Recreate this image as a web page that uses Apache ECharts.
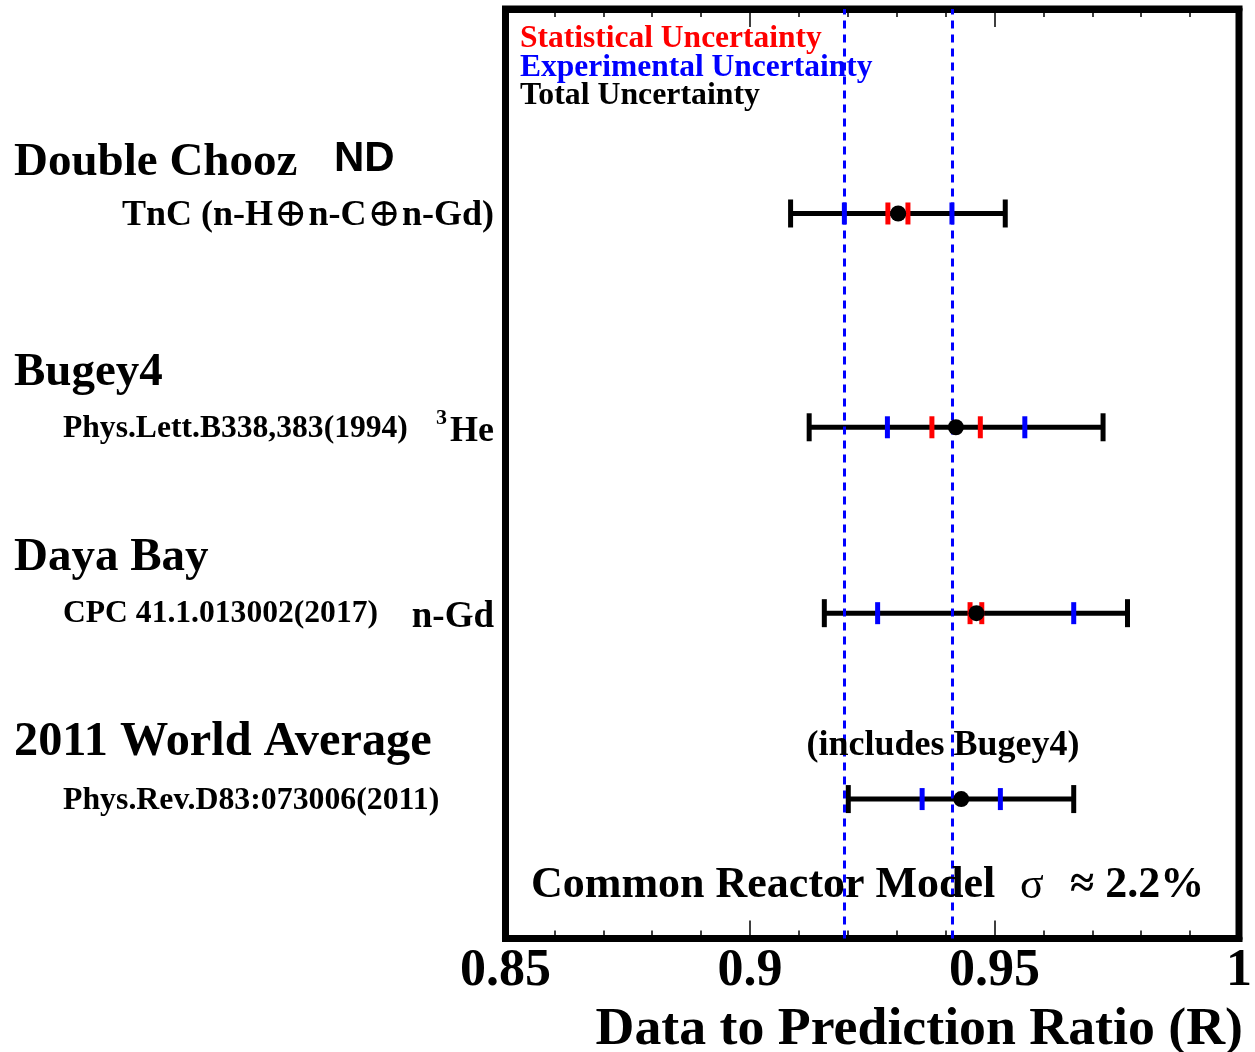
<!DOCTYPE html>
<html>
<head>
<meta charset="utf-8">
<script src="https://cdn.jsdelivr.net/npm/echarts@6/dist/echarts.min.js"></script>
<style>html,body{margin:0;padding:0;background:#fff}#c{width:1255px;height:1052px}</style>
</head>
<body>
<div id="c"></div>
<script>
// ---- data ----
var experiments = ['Double Chooz', 'Bugey4', 'Daya Bay', '2011 World Average'];
var rowY      = [3.9, 2.75, 1.75, 0.75];
var central   = [0.9303, 0.9421, 0.9463, 0.9432];
var totalLo   = [0.9083, 0.9121, 0.9152, 0.9201];
var totalHi   = [0.9522, 0.9722, 0.9772, 0.9662];
var expLo     = [0.9193, 0.9281, 0.9261, 0.9352];
var expHi     = [0.9413, 0.9562, 0.9662, 0.9512];
var statLo    = [0.9282, 0.9372, 0.9450, '-'];
var statHi    = [0.9323, 0.9471, 0.9474, '-'];
var bandLines = [0.9193, 0.9413];
var xTicks    = [0.85, 0.9, 0.95, 1];

var errData = experiments.map(function (n, i) {
  return [totalLo[i], totalHi[i], rowY[i], expLo[i], expHi[i], statLo[i], statHi[i]];
});
var dotData = experiments.map(function (n, i) { return [central[i], rowY[i]]; });

var SERIF = '"Liberation Serif","Times New Roman",serif';
var SANS = '"Liberation Sans",Arial,sans-serif';
var DY = 2;

function txt(text, x, y, size, opts) {
  opts = opts || {};
  var st = {
    text: text,
    font: (opts.weight || 'bold') + ' ' + size + 'px ' + (opts.family || SERIF),
    fill: opts.color || '#000',
    textAlign: opts.align || 'left',
    textVerticalAlign: 'middle'
  };
  if (opts.rich) st.rich = opts.rich;
  return { type: 'text', x: x, y: y + DY, z: 100, style: st };
}

function tick(x, y, w, h, color) {
  return { type: 'rect', shape: { x: x - w / 2, y: y - h / 2, width: w, height: h }, style: { fill: color } };
}

function renderErr(params, api) {
  var y = api.value(2);
  var pLo = api.coord([api.value(0), y]);
  var pHi = api.coord([api.value(1), y]);
  var ch = [];
  ch.push({ type: 'line', shape: { x1: pLo[0], y1: pLo[1], x2: pHi[0], y2: pHi[1] }, style: { stroke: '#000', lineWidth: 5 } });
  ch.push(tick(pLo[0], pLo[1], 5, 28, '#000'));
  ch.push(tick(pHi[0], pHi[1], 5, 28, '#000'));
  [[3, 4, '#0000ff'], [5, 6, '#ff0000']].forEach(function (d) {
    var a = api.value(d[0]), b = api.value(d[1]);
    if (!isNaN(a)) ch.push(tick(api.coord([a, y])[0], pLo[1], 5, 22, d[2]));
    if (!isNaN(b)) ch.push(tick(api.coord([b, y])[0], pLo[1], 5, 22, d[2]));
  });
  return { type: 'group', children: ch };
}

function xAxisDef(pos, showLabel) {
  return {
    type: 'value', min: 0.85, max: 1.0, interval: 0.05, position: pos,
    axisLine: { show: true, onZero: false, lineStyle: { color: '#000', width: 7 } },
    axisTick: { show: true, inside: true, length: 18, lineStyle: { color: '#000', width: 1.5 } },
    minorTick: { show: true, splitNumber: 5, length: 8, lineStyle: { color: '#000', width: 1.5 } },
    splitLine: { show: false },
    axisLabel: showLabel ? {
      show: true, inside: false, margin: 7, fontSize: 52, fontWeight: 'bold', fontFamily: SERIF, color: '#000',
      formatter: function (v) { var r = Math.round(v * 100) / 100; return xTicks.indexOf(r) >= 0 ? String(r) : ''; }
    } : { show: false }
  };
}

var plusRich = { p: { font: 'normal 40px "DejaVu Serif",serif', fill: '#000', padding: [0, 1] } };

var chart = echarts.init(document.getElementById('c'));
chart.setOption({
  animation: false,
  backgroundColor: '#fff',
  grid: { left: 505.5, right: 12, top: 9, bottom: 113.5, show: true, borderColor: '#000', borderWidth: 7 },
  xAxis: [xAxisDef('bottom', true), xAxisDef('top', false)],
  yAxis: { type: 'value', min: 0, max: 5, show: false },
  series: [
    { type: 'custom', renderItem: renderErr, data: errData, encode: { x: [0, 1], y: 2 }, z: 3 },
    {
      type: 'scatter', data: dotData, symbol: 'circle', symbolSize: 16, z: 5,
      itemStyle: { color: '#000', opacity: 1 },
      markLine: {
        silent: true, symbol: 'none', label: { show: false }, z: 4, precision: 6,
        lineStyle: { color: '#0000ff', width: 3, type: [8, 6], opacity: 1 },
        emphasis: { disabled: true },
        data: bandLines.map(function (v) { return { xAxis: v }; })
      }
    }
  ],
  graphic: [
    txt('Statistical Uncertainty', 520, 37, 31.5, { color: '#ff0000' }),
    txt('Experimental Uncertainty', 520, 66, 31.5, { color: '#0000ff' }),
    txt('Total Uncertainty', 520, 94, 31.8),

    txt('Double Chooz', 14, 161, 47),
    txt('ND', 334, 157, 42, { family: SANS }),
    txt('TnC (n-H{p|\u2295}n-C{p|\u2295}n-Gd)', 494, 214, 36, { align: 'right', rich: plusRich }),

    txt('Bugey4', 14, 371, 47),
    txt('Phys.Lett.B338,383(1994)', 63, 427, 31.6),
    txt('3', 436, 416, 22),
    txt('He', 494, 430, 36, { align: 'right' }),

    txt('Daya Bay', 14, 556, 47),
    txt('CPC 41.1.013002(2017)', 63, 612, 31.6),
    txt('n-Gd', 494, 615, 37, { align: 'right' }),

    txt('2011 World Average', 14, 741, 48.3),
    txt('Phys.Rev.D83:073006(2011)', 63, 799, 31.8),
    txt('(includes Bugey4)', 943, 744, 36, { align: 'center' }),

    txt('Common Reactor Model', 531, 884, 44),
    txt('\u03c3', 1020, 884, 44, { weight: 'normal' }),
    txt('\u2248 2.2%', 1070, 884, 44),

    txt('Data to Prediction Ratio (R)', 1243, 1028, 53.8, { align: 'right' })
  ]
});
</script>
</body>
</html>
